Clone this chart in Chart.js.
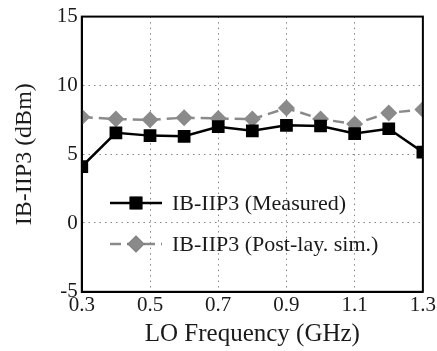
<!DOCTYPE html>
<html>
<head>
<meta charset="utf-8">
<script src="https://cdn.jsdelivr.net/npm/chart.js@4/dist/chart.umd.min.js"></script>
<style>
  html, body { margin: 0; padding: 0; background: #fff; }
  #wrap { width: 437px; height: 351px; }
</style>
</head>
<body>
<div id="wrap"><canvas id="myChart"></canvas></div>
<script>
const freqs = [0.3, 0.4, 0.5, 0.6, 0.7, 0.8, 0.9, 1.0, 1.1, 1.2, 1.3];
const measured = [4.1, 6.55, 6.35, 6.3, 7.0, 6.7, 7.1, 7.05, 6.5, 6.85, 5.15];
const postLay = [7.7, 7.55, 7.5, 7.65, 7.6, 7.55, 8.35, 7.55, 7.2, 8.0, 8.25];
const xTicks = [0.3, 0.5, 0.7, 0.9, 1.1, 1.3];
const yTicks = [-5, 0, 5, 10, 15];

const serif = '"Liberation Serif", "DejaVu Serif", serif';
const gray = 'rgb(138, 138, 138)';
const ink = '#1a1a1a';

function toPoints(vals) {
    return freqs.map((f, i) => ({ x: f, y: vals[i] }));
}

// frame around the plot + legend inside it
const framePlugin = {
    id: 'frame',
    afterDraw(chart) {
        const c = chart.ctx;
        const a = chart.chartArea;
        c.save();
        c.strokeStyle = '#000';
        c.lineWidth = 2;
        c.strokeRect(a.left, a.top, a.right - a.left, a.bottom - a.top);

        const items = [
            { ds: chart.data.datasets[0], y: 203 },
            { ds: chart.data.datasets[1], y: 244 }
        ];
        items.forEach(it => {
            const ds = it.ds;
            c.strokeStyle = ds.borderColor;
            c.lineWidth = ds.borderWidth;
            c.setLineDash(ds.borderDash || []);
            c.beginPath();
            c.moveTo(110, it.y);
            c.lineTo(162, it.y);
            c.stroke();
            c.setLineDash([]);
            Chart.helpers.drawPoint(c, {
                pointStyle: ds.pointStyle,
                radius: ds.pointRadius,
                borderWidth: 0
            }, 136, it.y);
            c.fillStyle = ds.pointBackgroundColor;
            c.fill();
            c.fillStyle = ink;
            c.font = '22px ' + serif;
            c.textBaseline = 'middle';
            c.fillText(ds.label, 172, it.y + 1);
        });
        c.restore();
    }
};

const ctx = document.getElementById('myChart');

new Chart(ctx, {
    type: 'line',
    data: {
        datasets: [
            {
                label: 'IB-IIP3 (Measured)',
                data: toPoints(measured),
                borderColor: '#000',
                borderWidth: 2.5,
                pointStyle: 'rect',
                pointRadius: 9,
                pointBackgroundColor: '#000',
                pointBorderWidth: 0,
                order: 1
            },
            {
                label: 'IB-IIP3 (Post-lay. sim.)',
                data: toPoints(postLay),
                borderColor: gray,
                borderWidth: 2.5,
                borderDash: [11, 6],
                pointStyle: 'rectRot',
                pointRadius: 8.5,
                pointBackgroundColor: gray,
                pointBorderWidth: 0,
                order: 2
            }
        ]
    },
    options: {
        responsive: true,
        maintainAspectRatio: false,
        animation: false,
        layout: { padding: { top: 15, right: 13, left: 0, bottom: 0 } },
        plugins: {
            legend: { display: false },
            tooltip: { enabled: false }
        },
        scales: {
            x: {
                type: 'linear',
                min: 0.3,
                max: 1.3,
                afterBuildTicks(axis) {
                    axis.ticks = xTicks.map(v => ({ value: v }));
                },
                ticks: {
                    color: ink,
                    font: { family: serif, size: 21 },
                    padding: 1,
                    maxRotation: 0,
                    callback: v => v.toFixed(1)
                },
                grid: {
                    color: ctx => (ctx.tick && (ctx.tick.value === 0.3 || ctx.tick.value === 1.3)) ? 'rgba(0,0,0,0)' : '#888',
                    lineWidth: 1,
                    drawTicks: false
                },
                border: { display: true, color: '#000', width: 2, dash: [1.5, 4] },
                title: {
                    display: true,
                    text: 'LO Frequency (GHz)',
                    color: ink,
                    font: { family: serif, size: 25 },
                    padding: { top: 0, bottom: 2 }
                }
            },
            y: {
                min: -5,
                max: 15,
                afterBuildTicks(axis) {
                    axis.ticks = yTicks.map(v => ({ value: v }));
                },
                ticks: {
                    color: ink,
                    font: { family: serif, size: 21 },
                    padding: 4
                },
                grid: {
                    color: ctx => (ctx.tick && (ctx.tick.value === -5 || ctx.tick.value === 15)) ? 'rgba(0,0,0,0)' : '#888',
                    lineWidth: 1,
                    drawTicks: false
                },
                border: { display: true, color: '#000', width: 2, dash: [1.5, 4] },
                title: {
                    display: true,
                    text: 'IB-IIP3 (dBm)',
                    color: ink,
                    font: { family: serif, size: 24 },
                    padding: { top: 10, bottom: 14 }
                }
            }
        }
    },
    plugins: [framePlugin]
});
</script>
</body>
</html>
